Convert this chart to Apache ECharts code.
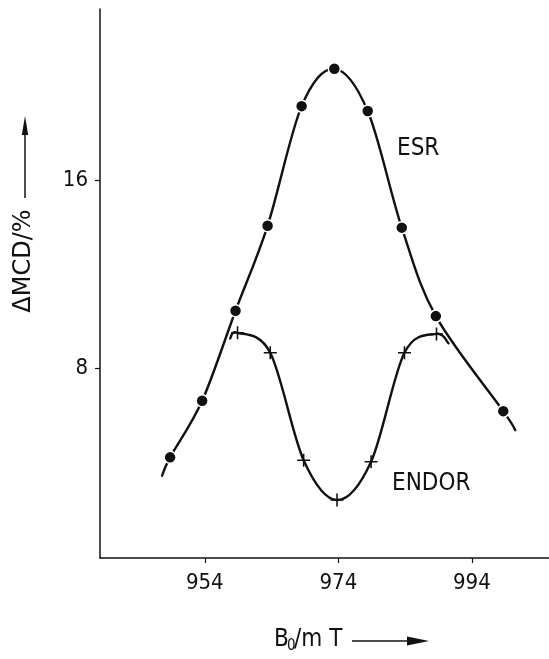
<!DOCTYPE html>
<html>
<head>
<meta charset="utf-8">
<script src="https://cdn.jsdelivr.net/npm/echarts@6/dist/echarts.min.js"></script>
<style>
  html, body { margin: 0; padding: 0; background: #fff; }
  #chart { width: 549px; height: 659px; }
</style>
</head>
<body>
<div id="chart"></div>
<script>
// ESR points (filled dots), B0 in mT and ΔMCD in %
const esrField = [948.8, 953.6, 958.6, 963.4, 968.5, 973.4, 978.4, 983.5, 988.6, 998.7];
const esrValue = [4.19, 6.60, 10.44, 14.06, 19.16, 20.75, 18.95, 13.98, 10.21, 6.16];
// ENDOR points (crosses)
const endorField = [958.9, 963.8, 968.8, 973.8, 978.9, 983.9, 988.7];
const endorValue = [9.50, 8.65, 4.07, 2.37, 4.00, 8.65, 9.45];
// where the drawn guide curves start and stop
const esrCurveStart = [947.6, 3.41];
const esrCurveEnd = [1000.5, 5.35];
const endorCurveStart = [957.8, 9.26];
const endorCurveEnd = [990.5, 9.05];
// tick labels
const xTicks = [954, 974, 994];
const yTicks = [8, 16];

const NUM_FONT = "'DejaVu Sans Condensed', 'DejaVu Sans', sans-serif";
const TXT_FONT = "'Liberation Sans Narrow', 'DejaVu Sans Condensed', sans-serif";
const INK = '#111';

const pairs = (xs, ys) => xs.map((x, i) => [x, ys[i]]);

const esrCurve = [esrCurveStart, ...pairs(esrField, esrValue), esrCurveEnd];
const endorCurve = [endorCurveStart, ...pairs(endorField, endorValue), endorCurveEnd];

// smooth guide line (Catmull-Rom) through the points, in pixel space
function guideLine(points) {
  return function (params, api) {
    if (params.dataIndex !== 0) return null;
    const p = points.map(v => api.coord(v));
    let d = 'M' + p[0][0] + ',' + p[0][1];
    for (let i = 0; i < p.length - 1; i++) {
      const p0 = p[i - 1] || p[i];
      const p1 = p[i];
      const p2 = p[i + 1];
      const p3 = p[i + 2] || p[i + 1];
      const c1x = p1[0] + (p2[0] - p0[0]) / 6;
      const c1y = p1[1] + (p2[1] - p0[1]) / 6;
      const c2x = p2[0] - (p3[0] - p1[0]) / 6;
      const c2y = p2[1] - (p3[1] - p1[1]) / 6;
      d += 'C' + c1x + ',' + c1y + ',' + c2x + ',' + c2y + ',' + p2[0] + ',' + p2[1];
    }
    return {
      type: 'path',
      shape: { pathData: d },
      style: { fill: 'none', stroke: INK, lineWidth: 2.4, lineCap: 'round', lineJoin: 'round' }
    };
  };
}

const chart = echarts.init(document.getElementById('chart'), null, { renderer: 'canvas' });

const option = {
  backgroundColor: '#fff',
  animation: false,
  grid: { left: 100, right: 0, top: 9, height: 549 },
  xAxis: {
    type: 'value',
    min: 938.3,
    max: 1005.55,
    axisLine: { onZero: false, lineStyle: { color: INK, width: 1.5 } },
    axisTick: { show: true, length: 5, inside: false, customValues: xTicks, lineStyle: { color: INK, width: 1.2 } },
    axisLabel: { customValues: xTicks, margin: 14, color: INK, fontSize: 22, fontFamily: NUM_FONT },
    splitLine: { show: false }
  },
  yAxis: {
    type: 'value',
    min: -0.1,
    max: 23.3,
    axisLine: { show: true, lineStyle: { color: INK, width: 1.5 } },
    axisTick: { show: true, length: 5, inside: false, customValues: yTicks, lineStyle: { color: INK, width: 1.2 } },
    axisLabel: { customValues: yTicks, margin: 12, color: INK, fontSize: 22, fontFamily: NUM_FONT },
    splitLine: { show: false }
  },
  series: [
    {
      name: 'ESR curve',
      type: 'custom',
      data: esrCurve,
      renderItem: guideLine(esrCurve),
      silent: true,
      z: 2
    },
    {
      name: 'ENDOR curve',
      type: 'custom',
      data: endorCurve,
      renderItem: guideLine(endorCurve),
      silent: true,
      z: 2
    },
    {
      name: 'ESR',
      type: 'scatter',
      data: pairs(esrField, esrValue),
      symbol: 'circle',
      symbolSize: 12,
      itemStyle: { color: INK, borderColor: '#fff', borderWidth: 1.5, opacity: 1 },
      z: 5
    },
    {
      name: 'ENDOR',
      type: 'scatter',
      data: pairs(endorField, endorValue),
      symbol: 'path://M8.8,0H11.2V8.8H20V11.2H11.2V20H8.8V11.2H0V8.8H8.8Z',
      symbolSize: 13,
      itemStyle: { color: INK, opacity: 1 },
      z: 5
    }
  ],
  graphic: [
    // y axis name with upward arrow
    {
      type: 'text', x: 24, y: 261, rotation: Math.PI / 2,
      style: { text: 'ΔMCD/%', x: 0, y: 0, align: 'center', verticalAlign: 'middle', fill: INK, font: "24px 'DejaVu Sans', sans-serif" }
    },
    { type: 'line', shape: { x1: 25, y1: 198, x2: 25, y2: 132 }, style: { stroke: INK, lineWidth: 1.5 } },
    { type: 'polygon', shape: { points: [[25, 116], [21.8, 135], [28.2, 135]] }, style: { fill: INK } },
    // x axis name with right arrow
    { type: 'text', x: 274, y: 640, style: { text: 'B', align: 'left', verticalAlign: 'middle', fill: INK, font: '24px ' + TXT_FONT } },
    { type: 'text', x: 287, y: 646, style: { text: '0', align: 'left', verticalAlign: 'middle', fill: INK, font: '15px ' + TXT_FONT } },
    { type: 'text', x: 294, y: 640, style: { text: '/m T', align: 'left', verticalAlign: 'middle', fill: INK, font: '24px ' + TXT_FONT } },
    { type: 'line', shape: { x1: 352, y1: 641, x2: 412, y2: 641 }, style: { stroke: INK, lineWidth: 1.5 } },
    { type: 'polygon', shape: { points: [[429, 641], [407, 636.5], [407, 645.5]] }, style: { fill: INK } },
    // curve labels
    { type: 'text', x: 397, y: 149, style: { text: 'ESR', align: 'left', verticalAlign: 'middle', fill: INK, font: '24px ' + TXT_FONT } },
    { type: 'text', x: 392, y: 484, style: { text: 'ENDOR', align: 'left', verticalAlign: 'middle', fill: INK, font: '24px ' + TXT_FONT } }
  ]
};

chart.setOption(option);
</script>
</body>
</html>
